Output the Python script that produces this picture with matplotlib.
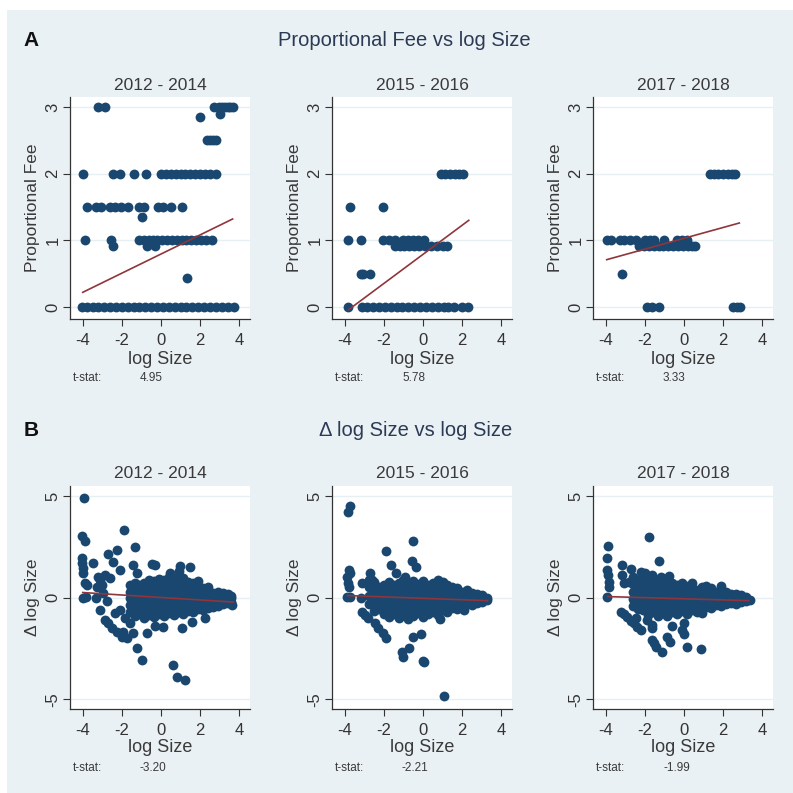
import matplotlib
matplotlib.use("Agg")
import matplotlib.pyplot as plt
from matplotlib.patches import Rectangle

plt.rcParams["font.family"] = ["Liberation Sans", "DejaVu Sans"]
plt.rcParams["axes.unicode_minus"] = False

W = 793.0
DOT = "#1a476f"
FIT = "#90353b"
BG = "#eaf1f4"
TXT = "#3a3a3a"

periods = ["2012 - 2014", "2015 - 2016", "2017 - 2018"]
tstat_fee = ["4.95", "5.78", "3.33"]
tstat_dsize = ["-3.20", "-2.21", "-1.99"]

# ---- panel A: proportional fee, points grouped by fee level (level, x values)
a1_rows = [
    (3.0, [-3.2, -2.85, 2.7, 2.95, 3.1, 3.25, 3.4, 3.55, 3.7]),
    (2.9, [3.0]),
    (2.85, [1.99]),
    (2.5, [2.35, 2.5, 2.65, 2.8]),
    (2.0, [-4.0, -2.45, -2.1, -1.4, -0.75, 0.0, 0.25, 0.5, 0.75, 1.0, 1.25, 1.5,
           1.75, 2.0, 2.25, 2.5, 2.8]),
    (1.5, [-3.8, -3.3, -3.05, -2.6, -2.35, -2.05, -1.7, -1.1, -0.85, -0.15, 0.1,
           0.5, 1.05]),
    (1.345, [-0.95]),
    (1.0, [-3.9, -2.55, -1.1, -0.85, -0.6, -0.4, -0.2, 0.05, 0.3, 0.55, 0.8, 1.05,
           1.3, 1.55, 1.8, 2.05, 2.3, 2.6]),
    (0.91, [-2.45, -0.7, -0.3]),
    (0.43, [1.31]),
    (0.0, [-4.05, -3.8, -3.5, -3.2, -2.9, -2.6, -2.3, -2.0, -1.7, -1.4, -1.1, -0.8,
           -0.5, -0.2, 0.1, 0.4, 0.7, 1.0, 1.3, 1.6, 1.9, 2.2, 2.5, 2.8, 3.1, 3.4,
           3.75]),
]
a2_rows = [
    (2.0, [0.91, 1.15, 1.4, 1.65, 1.85, 2.05]),
    (1.5, [-3.75, -2.03]),
    (1.0, [-3.85, -3.18, -2.03, -1.75, -1.45, -1.0, -0.75, -0.5, -0.25, 0.05]),
    (0.91, [-1.45, -1.2, -0.95, -0.7, -0.45, -0.2, 0.1, 0.4, 0.7, 1.0, 1.24]),
    (0.5, [-3.18, -3.05, -2.71]),
    (0.0, [-3.85, -3.13, -2.85, -2.55, -2.25, -1.95, -1.65, -1.35, -1.05, -0.75,
           -0.45, -0.15, 0.15, 0.45, 0.75, 1.05, 1.3, 1.58, 2.0, 2.3]),
]
a3_rows = [
    (2.0, [1.34, 1.55, 1.75, 2.0, 2.27, 2.45, 2.6]),
    (1.0, [-3.95, -3.75, -3.29, -3.05, -2.75, -2.47, -1.97, -1.75, -1.54, -1.03,
           -0.36, -0.1, 0.15]),
    (0.91, [-2.3, -2.05, -1.8, -1.55, -1.3, -1.05, -0.8, -0.55, -0.3, -0.05, 0.2,
            0.4, 0.58]),
    (0.5, [-3.15]),
    (0.0, [-1.88, -1.63, -1.29, 2.53, 2.7, 2.86]),
]
fee_fit_x = [[-4.0, 3.66], [-3.8, 2.34], [-3.95, 2.83]]
fee_fit_y = [[0.22, 1.32], [-0.04, 1.30], [0.71, 1.26]]

# ---- panel B: change in log size; scattered points then dense core columns
b1_x = [-3.91, -4.05, -3.88, -1.87, -1.33, -2.26, -2.69, -2.43, -3.45, -4.05, -4.05,
        -4.0, -3.97, -3.88, -3.8, -4.0, -3.83, -2.09, -1.41, -1.24, -0.48, -0.31,
        0.46, 0.97, 1.48, -3.2, -3.11, -2.86, -2.6, -3.28, -3.03, -3.11, -2.86,
        -2.69, -2.52, -2.26, -2.0, -1.75, -1.92, -2.34, -2.09, -1.84, -1.58, -1.41,
        -1.24, -0.99, -0.73, -0.31, 0.12, 0.63, 0.83, 1.23, 1.06, 1.57, 2.25, 3.61,
        -3.3, -2.95, -2.75]
b1_y = [4.89, 3.03, 2.79, 3.33, 2.51, 2.34, 2.13, 1.77, 1.69, 1.93, 1.69,
        1.44, 1.2, 0.7, 0.62, 0.0, 0.05, 1.36, 1.6, 1.23, 1.66, 1.6,
        1.23, 1.56, 1.49, 1.03, 0.87, 1.11, 0.95, 0.54, 0.62, -0.61, -1.1,
        -1.26, -1.51, -1.67, -1.92, -2.0, -1.67, -0.77, -0.61, -1.02, -1.26, -1.75,
        -2.49, -3.07, -1.75, -1.39, -1.43, -3.31, -3.93, -4.05, -1.51, -1.18, -1.02, -0.36,
        0.0, 0.25, -0.15]
b1_core = [
    (-1.6, [-0.7, -0.35, 0.0, 0.3, 0.6]),
    (-1.35, [-0.9, -0.55, -0.2, 0.15, 0.45, 0.7]),
    (-1.1, [-0.8, -0.45, -0.1, 0.25, 0.6]),
    (-0.85, [-1.0, -0.65, -0.3, 0.05, 0.4, 0.7]),
    (-0.6, [-0.85, -0.5, -0.15, 0.2, 0.55, 0.85]),
    (-0.35, [-0.95, -0.6, -0.25, 0.1, 0.45, 0.8]),
    (-0.1, [-0.8, -0.45, -0.1, 0.25, 0.6, 0.9]),
    (0.15, [-0.9, -0.55, -0.2, 0.15, 0.5, 0.85]),
    (0.4, [-0.75, -0.4, -0.05, 0.3, 0.65, 1.0]),
    (0.65, [-0.85, -0.5, -0.15, 0.2, 0.55, 0.9]),
    (0.9, [-0.7, -0.35, 0.0, 0.35, 0.7, 1.05, 1.3]),
    (1.15, [-0.8, -0.45, -0.1, 0.25, 0.6, 0.95]),
    (1.4, [-0.65, -0.3, 0.05, 0.4, 0.75]),
    (1.65, [-0.7, -0.35, 0.0, 0.35, 0.7]),
    (1.9, [-0.55, -0.2, 0.15, 0.5, 0.8]),
    (2.15, [-0.6, -0.25, 0.1, 0.45]),
    (2.4, [-0.5, -0.15, 0.2, 0.5]),
    (2.65, [-0.45, -0.1, 0.25]),
    (2.9, [-0.4, -0.05, 0.3]),
    (3.15, [-0.3, 0.0, 0.25]),
    (3.4, [-0.25, 0.05, 0.2]),
    (3.6, [-0.2, 0.0, 0.1]),
]

b2_x = [-3.85, -3.71, -3.8, -3.75, -3.88, -3.85, -3.8, -3.88, -3.71, -3.13, -3.16,
        -2.71, -2.62, -3.13, -2.96, -2.79, -2.45, -2.29, -2.03, -1.87, -1.87, -1.65,
        -1.39, -0.52, -0.55, -0.35, -0.94, -1.08, -1.03, -0.69, -0.02, 0.03, -0.52,
        -0.1, 1.08, 0.87, 2.08]
b2_y = [4.2, 4.51, 1.36, 1.2, 1.03, 0.7, 0.54, 0.05, 0.02, 0.7, -0.03,
        1.23, 0.87, -0.69, -0.85, -1.02, -1.26, -1.51, -1.75, -1.97, 2.31, 1.61,
        1.2, 2.79, 1.8, 1.52, 1.03, -2.7, -2.9, -2.48, -3.1, -3.15, -1.92,
        -1.79, -4.84, -1.07, -0.61]
b2_core = [
    (-2.75, [-0.3, 0.1, 0.5, 0.85]),
    (-2.5, [-0.65, -0.3, 0.05, 0.4, 0.75]),
    (-2.25, [-0.55, -0.2, 0.15, 0.5]),
    (-2.0, [-0.8, -0.45, -0.1, 0.25, 0.6]),
    (-1.75, [-0.95, -0.6, -0.25, 0.1, 0.45, 0.75]),
    (-1.5, [-0.8, -0.45, -0.1, 0.25, 0.6]),
    (-1.25, [-1.0, -0.65, -0.3, 0.05, 0.4, 0.7]),
    (-1.0, [-0.85, -0.5, -0.15, 0.2, 0.55, 0.85]),
    (-0.75, [-1.05, -0.7, -0.35, 0.0, 0.35, 0.7]),
    (-0.5, [-0.9, -0.55, -0.2, 0.15, 0.5, 0.8]),
    (-0.25, [-0.75, -0.4, -0.05, 0.3, 0.65]),
    (0.0, [-0.95, -0.6, -0.25, 0.1, 0.45, 0.8]),
    (0.25, [-0.8, -0.45, -0.1, 0.25, 0.6]),
    (0.5, [-0.7, -0.35, 0.0, 0.35, 0.7]),
    (0.75, [-0.85, -0.5, -0.15, 0.2, 0.55, 0.85]),
    (1.0, [-0.6, -0.25, 0.1, 0.45, 0.75]),
    (1.25, [-0.7, -0.35, 0.0, 0.35, 0.6]),
    (1.5, [-0.5, -0.15, 0.2, 0.5]),
    (1.75, [-0.55, -0.2, 0.15, 0.45]),
    (2.0, [-0.4, -0.05, 0.3]),
    (2.25, [-0.3, 0.05, 0.35]),
    (2.5, [-0.35, 0.0, 0.25]),
    (2.75, [-0.25, 0.05, 0.2]),
    (3.0, [-0.2, 0.0, 0.15]),
    (3.25, [-0.1, 0.0]),
]

b3_x = [-3.86, -3.92, -3.92, -3.88, -3.83, -3.83, -3.92, -3.15, -2.73, -3.19, -3.07,
        -2.81, -1.78, -1.29, -2.22, -1.97, -1.63, -1.2, -0.78, -3.24, -3.07, -2.9,
        -2.73, -2.56, -2.39, -2.22, -2.47, -1.66, -1.54, -1.41, -1.12, -1.88, -1.63,
        -1.63, -0.86, -0.69, -0.61, -0.1, -0.02, -0.02, 0.15, 0.88, 0.92]
b3_y = [2.56, 1.93, 1.36, 1.11, 0.79, 0.54, 0.05, 1.6, 1.39, 1.11, 0.7,
        0.79, 3.0, 1.82, 1.28, 1.2, 1.11, 1.03, 1.07, -0.69, -0.8, -0.93,
        -1.13, -1.26, -1.43, -1.59, -1.02, -2.08, -2.25, -2.41, -2.66, -1.1, -1.34,
        -1.51, -1.92, -2.16, -1.39, -1.59, -1.79, -1.26, -2.44, -2.54, -0.77]
b3_core = [
    (-2.6, [-0.4, -0.05, 0.3, 0.65, 1.0]),
    (-2.35, [-0.55, -0.2, 0.15, 0.5, 0.85]),
    (-2.1, [-0.6, -0.25, 0.1, 0.45, 0.8, 1.15]),
    (-1.85, [-0.85, -0.5, -0.15, 0.2, 0.55, 0.9]),
    (-1.6, [-0.7, -0.35, 0.0, 0.35, 0.7]),
    (-1.35, [-0.9, -0.55, -0.2, 0.15, 0.5, 0.85]),
    (-1.1, [-0.75, -0.4, -0.05, 0.3, 0.65]),
    (-0.85, [-0.9, -0.55, -0.2, 0.15, 0.5, 0.85]),
    (-0.6, [-0.7, -0.35, 0.0, 0.35, 0.7]),
    (-0.35, [-0.8, -0.45, -0.1, 0.25, 0.6]),
    (-0.1, [-0.65, -0.3, 0.05, 0.4, 0.7]),
    (0.15, [-0.8, -0.45, -0.1, 0.25, 0.55]),
    (0.4, [-0.6, -0.25, 0.1, 0.45, 0.7]),
    (0.65, [-0.7, -0.35, 0.0, 0.35]),
    (0.9, [-0.55, -0.2, 0.15, 0.5]),
    (1.15, [-0.45, -0.1, 0.25, 0.55]),
    (1.4, [-0.5, -0.15, 0.2, 0.45]),
    (1.65, [-0.35, 0.0, 0.3]),
    (1.9, [-0.4, -0.05, 0.3, 0.55]),
    (2.15, [-0.3, 0.05, 0.3]),
    (2.4, [-0.25, 0.05, 0.2]),
    (2.65, [-0.3, 0.0, 0.2]),
    (2.9, [-0.2, 0.0, 0.15]),
    (3.15, [-0.15, 0.05]),
    (3.35, [-0.1]),
]
dsize_fit_x = [[-4.0, 3.7], [-3.85, 3.3], [-3.9, 3.3]]
dsize_fit_y = [[0.25, -0.22], [0.10, -0.15], [0.05, -0.15]]


def rows_to_xy(rows):
    xs, ys = [], []
    for level, vals in rows:
        xs += vals
        ys += [level] * len(vals)
    return xs, ys


def cols_to_xy(cols, extra_x, extra_y):
    xs, ys = list(extra_x), list(extra_y)
    for xv, vals in cols:
        xs += [xv] * len(vals)
        ys += vals
    return xs, ys


fee_data = [rows_to_xy(r) for r in (a1_rows, a2_rows, a3_rows)]
dsize_data = [cols_to_xy(b1_core, b1_x, b1_y),
              cols_to_xy(b2_core, b2_x, b2_y),
              cols_to_xy(b3_core, b3_x, b3_y)]

fig = plt.figure(figsize=(7.93, 7.93), dpi=100)
fig.patches.append(Rectangle((7 / W, 0), 1, 1 - 10 / W, transform=fig.transFigure,
                             facecolor=BG, edgecolor="none", zorder=-10))

lefts = [70, 332, 593]
rows = [
    dict(top=97, bottom=319, data=fee_data, fx=fee_fit_x, fy=fee_fit_y,
         ylim=(-0.18, 3.15), yticks=[0, 1, 2, 3], ylabel="Proportional Fee",
         ts=tstat_fee, sub_y=86, lab_y=359, ts_y=378),
    dict(top=486, bottom=709, data=dsize_data, fx=dsize_fit_x, fy=dsize_fit_y,
         ylim=(-5.48, 5.49), yticks=[-5, 0, 5], ylabel="Δ log Size",
         ts=tstat_dsize, sub_y=474, lab_y=748, ts_y=768),
]


def fy(py):
    return 1 - py / W


for r in rows:
    for i, left in enumerate(lefts):
        ax = fig.add_axes([left / W, fy(r["bottom"]), 180 / W,
                           (r["bottom"] - r["top"]) / W])
        ax.set_facecolor("white")
        ax.set_xlim(-4.65, 4.55)
        ax.set_ylim(*r["ylim"])
        ax.set_xticks([-4, -2, 0, 2, 4])
        ax.set_yticks(r["yticks"])
        ax.set_yticklabels([str(t) for t in r["yticks"]], rotation=90, va="center")
        for yt in r["yticks"]:
            ax.axhline(yt, color="#e6eff1", lw=1.0, zorder=0)
        x, y = r["data"][i]
        ax.scatter(x, y, s=50, color=DOT, linewidths=0, zorder=2)
        ax.plot(r["fx"][i], r["fy"][i], color=FIT, lw=1.2, zorder=3)
        for side in ("top", "right"):
            ax.spines[side].set_visible(False)
        for side in ("left", "bottom"):
            ax.spines[side].set_color("#333333")
            ax.spines[side].set_linewidth(0.9)
        ax.tick_params(direction="out", length=5, width=0.8, colors="#333333",
                       labelsize=12)
        ax.tick_params(axis="x", pad=5)
        ax.tick_params(axis="y", pad=2)
        ax.set_ylabel(r["ylabel"], fontsize=12.5, color=TXT, labelpad=4)
        cx = (left + 90) / W
        fig.text(cx, fy(r["sub_y"]), periods[i], ha="center", va="center",
                 fontsize=12.5, color=TXT)
        fig.text(cx, fy(r["lab_y"]), "log Size", ha="center", va="center",
                 fontsize=13, color=TXT)
        fig.text((left + 3) / W, fy(r["ts_y"]), "t-stat:", ha="left", va="center",
                 fontsize=8.5, color=TXT)
        fig.text((left + 70) / W, fy(r["ts_y"]), r["ts"][i], ha="left",
                 va="center", fontsize=8.5, color=TXT)

fig.text(31 / W, fy(41), "A", ha="center", va="center", fontsize=15,
         fontweight="bold", color="#111111")
fig.text(404 / W, fy(41), "Proportional Fee vs log Size", ha="center",
         va="center", fontsize=14.5, color="#2b3a55")
fig.text(31 / W, fy(430), "B", ha="center", va="center", fontsize=15,
         fontweight="bold", color="#111111")
fig.text(416 / W, fy(430), "Δ log Size vs log Size", ha="center",
         va="center", fontsize=14.5, color="#2b3a55")

fig.savefig("out.png", dpi=100)
